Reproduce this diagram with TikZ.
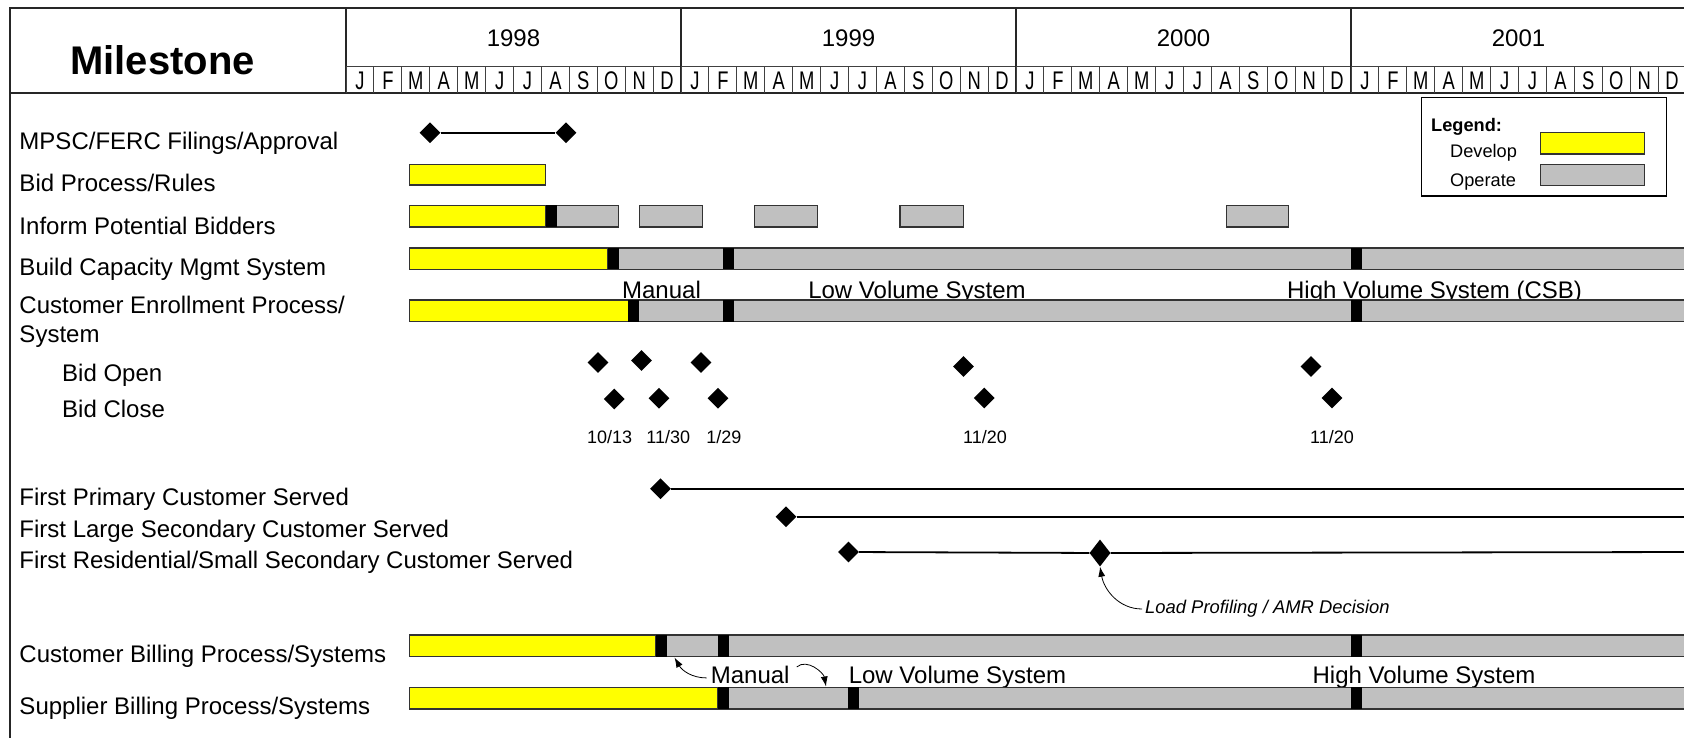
\documentclass[tikz,border=0pt]{standalone}
\usepackage{fontspec}
\setmainfont{Liberation Sans}
\newfontfamily\narrowfont[FakeStretch=0.72]{Liberation Sans}
\usetikzlibrary{shapes.geometric, arrows.meta, positioning}
\definecolor{devyellow}{HTML}{FFFF00}
\definecolor{opgray}{HTML}{C0C0C0}

\begin{document}
\begin{tikzpicture}[
  x=1pt, y=-1pt,
  frame/.style={line width=1.5pt, black!85},
  grid/.style={line width=1pt, black!75},
  lbl/.style={anchor=base west, inner sep=0pt, font=\fontsize{24}{28}\selectfont},
  phase/.style={anchor=base, inner sep=0pt, font=\fontsize{24}{28}\selectfont},
  monthlbl/.style={anchor=base, inner sep=0pt, font=\narrowfont\fontsize{25.5}{28}\selectfont},
  datelbl/.style={anchor=base, inner sep=0pt, font=\fontsize{18}{22}\selectfont},
  dev/.style={draw=black!80, line width=1.2pt, fill=devyellow},
  op/.style={draw=black!80, line width=1.2pt, fill=opgray},
  cutover/.style={fill=black},
  milestone/.style={diamond, fill=black, inner sep=0pt, minimum width=21pt, minimum height=21pt},
  msline/.style={line width=1.8pt},
  callout/.style={-{Latex[length=10pt, width=7pt]}, line width=0.8pt}
]
  \useasboundingbox (0,0) rectangle (1684,738);
  \fill[white] (0,0) rectangle (1684,738);
  \clip (0,0) rectangle (1684,738);

  % header
  \draw[frame] (1700,8) -| (10,738);
  \draw[frame] (10,93) -- (1700,93);
  \draw[grid] (346,66.5) -- (1700,66.5);
  \node[anchor=base, inner sep=0pt, font=\bfseries\fontsize{40}{44}\selectfont] (title) at (162.5,75) {Milestone};
  \foreach \yr [count=\i from 0] in {1998,1999,2000,2001} {
    \draw[frame] (346+335*\i,8) -- (346+335*\i,93);
    \node[phase] (year\yr) at (513.5+335*\i,46.5) {\yr};
    \foreach \mo [count=\k from 0] in {J,F,M,A,M,J,J,A,S,O,N,D} {
      \draw[grid] (346+335*\i+27.917*\k,66.5) -- (346+335*\i+27.917*\k,93);
      \node[monthlbl] (m\yr-\k) at (360+335*\i+27.917*\k,90) {\mo};
    }
  }

  % legend
  \node[draw, line width=1.2pt, fill=white, anchor=north west, minimum width=245pt, minimum height=98.5pt] (legend) at (1421,97) {};
  \node[anchor=base west, inner sep=0pt, font=\bfseries\fontsize{18.2}{22}\selectfont] (legtitle) at (1431,132) {Legend:};
  \node[anchor=base west, inner sep=0pt, font=\fontsize{18.2}{22}\selectfont] (legdev) at (1450,157.5) {Develop};
  \node[anchor=base west, inner sep=0pt, font=\fontsize{18.2}{22}\selectfont] (legop) at (1450,187) {Operate};
  \draw[dev] (1540.7,132.7) rectangle (1644.7,154);
  \draw[op] (1540.7,164.3) rectangle (1644.7,185.3);

  % row labels
  \node[lbl] (mpsc) at (19.3,150) {MPSC/FERC Filings/Approval};
  \node[lbl] (bidproc) at (19.3,192) {Bid Process/Rules};
  \node[lbl] (inform) at (19.3,234) {Inform Potential Bidders};
  \node[lbl] (build) at (19.3,276) {Build Capacity Mgmt System};
  \node[lbl] (enroll) at (19.3,313.5) {Customer Enrollment Process/};
  \node[lbl] (enroll2) at (19.3,342) {System};
  \node[lbl] (bidopen) at (62,381) {Bid Open};
  \node[lbl] (bidclose) at (62,417) {Bid Close};
  \node[lbl] (firstprim) at (19.3,505.5) {First Primary Customer Served};
  \node[lbl] (firstlarge) at (19.3,537) {First Large Secondary Customer Served};
  \node[lbl] (firstres) at (19.3,568) {First Residential/Small Secondary Customer Served};
  \node[lbl] (custbill) at (19.3,662) {Customer Billing Process/Systems};
  \node[lbl] (suppbill) at (19.3,714) {Supplier Billing Process/Systems};

  % filings
  \node[milestone] (mp1) at (430,132.7) {};
  \node[milestone] (mp2) at (566,132.7) {};
  \draw[msline] (mp1) -- (mp2);

  % bid process
  \draw[dev] (409.3,164.3) rectangle (545.6,185);

  % inform bidders
  \draw[op] (545.6,205.5) rectangle (618.7,227);
  \draw[dev] (409.3,205.5) rectangle (545.6,227);
  \fill[cutover] (545.6,205.5) rectangle (556.5,227);
  \foreach \a/\b in {639.3/702.7, 754.3/817.3, 900/963.4, 1226.5/1288.8}
    \draw[op] (\a,205.5) rectangle (\b,227);

  % capacity system
  \draw[op] (608,248) rectangle (1700,269.3);
  \draw[dev] (409.3,248) rectangle (608,269.3);
  \foreach \a in {608,723,1351}
    \fill[cutover] (\a,248) rectangle (\a+11,269.3);

  % enrollment
  \node[phase] (enrman) at (661.5,298.5) {Manual};
  \node[phase] (enrlow) at (917,298.5) {Low Volume System};
  \node[phase] (enrhigh) at (1434.5,298.5) {High Volume System (CSB)};
  \draw[op] (628.3,300) rectangle (1700,321.5);
  \draw[dev] (409.3,300) rectangle (628.3,321.5);
  \foreach \a in {628.3,723,1351}
    \fill[cutover] (\a,300) rectangle (\a+11,321.5);

  % bid open / close
  \node[milestone] (bo1) at (598,362.5) {};
  \node[milestone] (bo2) at (641.5,360.5) {};
  \node[milestone] (bo3) at (701,362.5) {};
  \node[milestone] (bo4) at (963.5,366.5) {};
  \node[milestone] (bo5) at (1311,366.5) {};
  \node[milestone] (bc1) at (614.3,399) {};
  \node[milestone] (bc2) at (659,398.3) {};
  \node[milestone] (bc3) at (718,398.3) {};
  \node[milestone] (bc4) at (984.3,398) {};
  \node[milestone] (bc5) at (1332,398) {};
  \node[datelbl] (d1) at (609.7,443) {10/13};
  \node[datelbl] (d2) at (668.3,443) {11/30};
  \node[datelbl] (d3) at (723.8,443) {1/29};
  \node[datelbl] (d4) at (985,443) {11/20};
  \node[datelbl] (d5) at (1332,443) {11/20};

  % first customers served
  \node[milestone] (fp) at (660.5,488.7) {};
  \node[milestone] (fl) at (786,516.8) {};
  \node[milestone] (fr1) at (848.5,552) {};
  \node[milestone, minimum height=27pt] (fr2) at (1100,553) {};
  \coordinate (fpend) at (1700,488.7);
  \coordinate (flend) at (1700,516.8);
  \coordinate (frend) at (1700,552);
  \draw[msline] (fp) -- (fpend);
  \draw[msline] (fl) -- (flend);
  \draw[msline] (fr1) -- (fr2) -- (frend);
  \node[anchor=west, inner sep=0pt, font=\itshape\fontsize{18.4}{22}\selectfont] (amr) at (1145,609) {Load Profiling / AMR Decision};
  \draw[callout] ([xshift=-3pt]amr.west) to[out=180, in=-80] (fr2.south);

  % customer billing
  \draw[op] (655.5,635) rectangle (1700,656.5);
  \draw[dev] (409.3,635) rectangle (655.5,656.5);
  \foreach \a in {655.5,717.5,1351}
    \fill[cutover] (\a,635) rectangle (\a+11,656.5);

  % supplier billing
  \node[phase] (billman) at (750.2,683.5) {Manual};
  \node[phase] (billlow) at (957.5,683.5) {Low Volume System};
  \node[phase] (billhigh) at (1424,683.5) {High Volume System};
  \draw[op] (717.5,687.3) rectangle (1700,709);
  \draw[dev] (409.3,687.3) rectangle (717.5,709);
  \foreach \a in {717.5,848,1351}
    \fill[cutover] (\a,687.3) rectangle (\a+11,709);

  \coordinate (cbhit) at (674.5,657.5);
  \coordinate (sbhit) at (826,686.5);
  \draw[callout] ([xshift=-4pt, yshift=-3pt]billman.west) to[out=180, in=-60] (cbhit);
  \draw[callout] ([xshift=7pt, yshift=8pt]billman.east) to[out=40, in=100] (sbhit);
\end{tikzpicture}
\end{document}
